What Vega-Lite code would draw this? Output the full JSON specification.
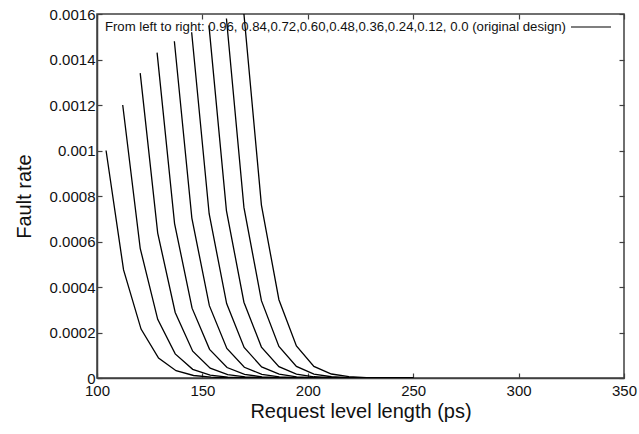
{
  "$schema": "https://vega.github.io/schema/vega-lite/v6.json",
  "width": 527,
  "height": 364,
  "autosize": {"type": "none"},
  "padding": {"left": 97, "top": 14, "right": 15, "bottom": 56},
  "background": "white",
  "config": {
    "font": "Liberation Sans",
    "view": {"stroke": "#404040", "strokeWidth": 1.5},
    "axis": {
      "grid": false,
      "domainColor": "#404040",
      "domainWidth": 1.5,
      "tickColor": "#404040",
      "tickWidth": 1.2,
      "tickSize": -5,
      "labelFont": "Liberation Sans",
      "labelFontSize": 15,
      "labelColor": "#111",
      "titleFont": "Liberation Sans",
      "titleFontSize": 20,
      "titleFontWeight": "normal",
      "titleColor": "#111"
    }
  },
  "data": {"values": [
    {"c": "0.96", "x": 104.3, "y": 0.001},
    {"c": "0.96", "x": 112.6, "y": 0.000475},
    {"c": "0.96", "x": 120.9, "y": 0.000215},
    {"c": "0.96", "x": 129.2, "y": 0.000088},
    {"c": "0.96", "x": 137.5, "y": 0.000032},
    {"c": "0.96", "x": 145.8, "y": 0.000011},
    {"c": "0.96", "x": 154.1, "y": 0.0000035},
    {"c": "0.96", "x": 162.4, "y": 0.000001},
    {"c": "0.96", "x": 250, "y": 0},
    {"c": "0.84", "x": 112.2, "y": 0.0012},
    {"c": "0.84", "x": 120.5, "y": 0.00057},
    {"c": "0.84", "x": 128.8, "y": 0.000258},
    {"c": "0.84", "x": 137.1, "y": 0.000106},
    {"c": "0.84", "x": 145.4, "y": 0.000038},
    {"c": "0.84", "x": 153.7, "y": 0.000013},
    {"c": "0.84", "x": 162.0, "y": 0.0000042},
    {"c": "0.84", "x": 170.3, "y": 0.0000012},
    {"c": "0.84", "x": 250, "y": 0},
    {"c": "0.72", "x": 120.5, "y": 0.00134},
    {"c": "0.72", "x": 128.8, "y": 0.000637},
    {"c": "0.72", "x": 137.1, "y": 0.000288},
    {"c": "0.72", "x": 145.4, "y": 0.000118},
    {"c": "0.72", "x": 153.7, "y": 0.000043},
    {"c": "0.72", "x": 162.0, "y": 0.0000147},
    {"c": "0.72", "x": 170.3, "y": 0.0000047},
    {"c": "0.72", "x": 178.6, "y": 0.0000013},
    {"c": "0.72", "x": 250, "y": 0},
    {"c": "0.60", "x": 128.5, "y": 0.00143},
    {"c": "0.60", "x": 136.8, "y": 0.000679},
    {"c": "0.60", "x": 145.1, "y": 0.000307},
    {"c": "0.60", "x": 153.4, "y": 0.000126},
    {"c": "0.60", "x": 161.7, "y": 0.000046},
    {"c": "0.60", "x": 170.0, "y": 0.0000157},
    {"c": "0.60", "x": 178.3, "y": 0.000005},
    {"c": "0.60", "x": 186.6, "y": 0.0000014},
    {"c": "0.60", "x": 250, "y": 0},
    {"c": "0.48", "x": 136.7, "y": 0.00148},
    {"c": "0.48", "x": 145.0, "y": 0.000703},
    {"c": "0.48", "x": 153.3, "y": 0.000318},
    {"c": "0.48", "x": 161.6, "y": 0.00013},
    {"c": "0.48", "x": 169.9, "y": 0.000047},
    {"c": "0.48", "x": 178.2, "y": 0.0000163},
    {"c": "0.48", "x": 186.5, "y": 0.0000052},
    {"c": "0.48", "x": 194.8, "y": 0.0000015},
    {"c": "0.48", "x": 250, "y": 0},
    {"c": "0.36", "x": 144.9, "y": 0.00152},
    {"c": "0.36", "x": 153.2, "y": 0.000722},
    {"c": "0.36", "x": 161.5, "y": 0.000327},
    {"c": "0.36", "x": 169.8, "y": 0.000134},
    {"c": "0.36", "x": 178.1, "y": 0.000049},
    {"c": "0.36", "x": 186.4, "y": 0.0000167},
    {"c": "0.36", "x": 194.7, "y": 0.0000053},
    {"c": "0.36", "x": 203.0, "y": 0.0000015},
    {"c": "0.36", "x": 250, "y": 0},
    {"c": "0.24", "x": 153.1, "y": 0.00155},
    {"c": "0.24", "x": 161.4, "y": 0.000736},
    {"c": "0.24", "x": 169.7, "y": 0.000333},
    {"c": "0.24", "x": 178.0, "y": 0.000136},
    {"c": "0.24", "x": 186.3, "y": 0.00005},
    {"c": "0.24", "x": 194.6, "y": 0.000017},
    {"c": "0.24", "x": 202.9, "y": 0.0000054},
    {"c": "0.24", "x": 211.2, "y": 0.0000016},
    {"c": "0.24", "x": 250, "y": 0},
    {"c": "0.12", "x": 161.4, "y": 0.00158},
    {"c": "0.12", "x": 169.7, "y": 0.00075},
    {"c": "0.12", "x": 178.0, "y": 0.00034},
    {"c": "0.12", "x": 186.3, "y": 0.000139},
    {"c": "0.12", "x": 194.6, "y": 0.000051},
    {"c": "0.12", "x": 202.9, "y": 0.0000174},
    {"c": "0.12", "x": 211.2, "y": 0.0000055},
    {"c": "0.12", "x": 219.5, "y": 0.0000016},
    {"c": "0.12", "x": 250, "y": 0},
    {"c": "0.0", "x": 169.7, "y": 0.0016},
    {"c": "0.0", "x": 178.0, "y": 0.00076},
    {"c": "0.0", "x": 186.3, "y": 0.000344},
    {"c": "0.0", "x": 194.6, "y": 0.000141},
    {"c": "0.0", "x": 202.9, "y": 0.000051},
    {"c": "0.0", "x": 211.2, "y": 0.0000176},
    {"c": "0.0", "x": 219.5, "y": 0.0000056},
    {"c": "0.0", "x": 227.8, "y": 0.0000016},
    {"c": "0.0", "x": 250, "y": 0}
  ]},
  "layer": [
    {
      "mark": {"type": "line", "strokeWidth": 1.3, "clip": true},
      "encoding": {
        "x": {"field": "x", "type": "quantitative", "scale": {"domain": [100, 350], "nice": false, "zero": false},
              "axis": {"orient": "bottom", "values": [100, 150, 200, 250, 300, 350], "title": "Request level length (ps)", "labelPadding": 10, "titlePadding": 3, "labelFlush": false}},
        "y": {"field": "y", "type": "quantitative", "scale": {"domain": [0, 0.0016], "nice": false},
              "axis": {"orient": "left", "values": [0, 0.0002, 0.0004, 0.0006, 0.0008, 0.001, 0.0012, 0.0014, 0.0016], "format": ".4~f", "title": "Fault rate", "labelPadding": 7, "titlePadding": 15, "labelFlush": false}},
        "detail": {"field": "c"},
        "color": {"datum": "From left to right: 0.96, 0.84,0.72,0.60,0.48,0.36,0.24,0.12, 0.0 (original design)", "type": "nominal",
                  "scale": {"range": ["#000000"]},
                  "legend": {"title": null, "orient": "none", "legendX": 473, "legendY": -8, "padding": 0,
                             "symbolType": "stroke", "symbolSize": 1600, "symbolStrokeWidth": 1.2,
                             "labelAlign": "right", "labelOffset": -46, "labelFontSize": 13.2, "labelColor": "#111",
                             "labelFont": "Liberation Sans", "labelLimit": 0}}
      }
    },
    {
      "mark": {"type": "line", "strokeOpacity": 0},
      "encoding": {
        "x": {"field": "x", "type": "quantitative",
              "axis": {"orient": "top", "values": [100, 150, 200, 250, 300, 350], "labels": false, "title": null, "domain": false}},
        "y": {"field": "y", "type": "quantitative",
              "axis": {"orient": "right", "values": [0, 0.0002, 0.0004, 0.0006, 0.0008, 0.001, 0.0012, 0.0014, 0.0016], "labels": false, "title": null, "domain": false}},
        "detail": {"field": "c"}
      }
    }
  ],
  "resolve": {"axis": {"x": "independent", "y": "independent"}}
}
